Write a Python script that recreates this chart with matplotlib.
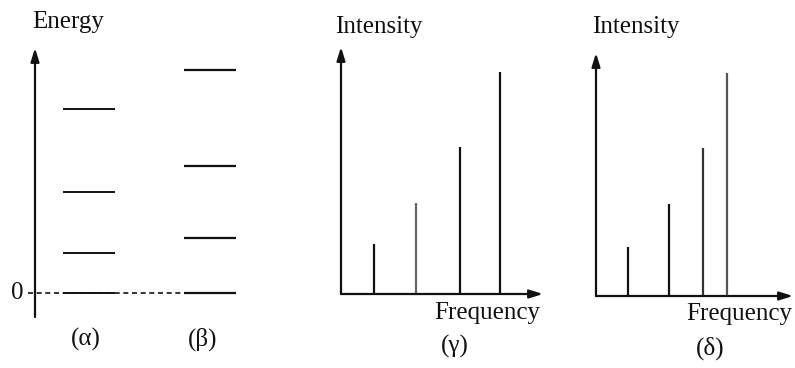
import matplotlib.pyplot as plt

# energy levels (arbitrary units, 0 = ground level)
levels_alpha = [0.0, 1.0, 2.52, 4.6]
levels_beta = [0.0, 1.38, 3.18, 5.58]

# spectra: line positions and intensities (arbitrary units)
freq_gamma = [33, 75, 119, 159]
int_gamma = [50, 91, 147, 222]
freq_delta = [32, 73, 107, 131]
int_delta = [49, 92, 148, 223]

panel_labels = ['(α)', '(β)', '(γ)', '(δ)']

plt.rcParams['font.family'] = ['Liberation Serif', 'DejaVu Serif']

W, H = 795, 368
fig = plt.figure(figsize=(W / 100, H / 100), dpi=100)


def px_axes(left, top, right, bottom):
    # axes placed by pixel box (top/bottom measured from image top)
    ax = fig.add_axes([left / W, 1 - bottom / H, (right - left) / W, (bottom - top) / H])
    ax.set_axis_off()
    return ax


def arrow(ax, start, end):
    ax.annotate('', xy=end, xytext=start, xycoords='axes fraction',
                arrowprops=dict(arrowstyle='-|>,head_length=0.8,head_width=0.25',
                                mutation_scale=10, lw=1.6, color='#111111',
                                shrinkA=0, shrinkB=0), annotation_clip=False)


def ftext(x, y, s, **kw):
    fig.text(x / W, 1 - y / H, s, fontsize=18, color='#111111', **kw)


# ---- energy level diagram (alpha, beta)
ax1 = px_axes(35, 48, 240, 317)
ax1.set_xlim(0, 5.125)
ax1.set_ylim(-0.6, 6.125)
arrow(ax1, (0, 0), (0, 1))
ax1.plot([-0.18, 3.72], [0, 0], color='#111111', lw=1.2,
         linestyle=(0, (3, 2.2)), clip_on=False)
for e in levels_alpha:
    ax1.plot([0.7, 2.0], [e, e], color='#111111', lw=1.4, solid_capstyle='butt')
for e in levels_beta:
    ax1.plot([3.72, 5.03], [e, e], color='#111111', lw=1.6, solid_capstyle='butt')

ftext(32, 28, 'Energy', ha='left', va='baseline')
ftext(17, 293, '0', ha='center', va='center')
ftext(86, 339, panel_labels[0], ha='center', va='center')
ftext(203, 339, panel_labels[1], ha='center', va='center')

# ---- spectrum gamma
ax2 = px_axes(341, 47, 543, 294)
ax2.set_xlim(0, 202)
ax2.set_ylim(0, 247)
arrow(ax2, (0, 0), (0, 1))
arrow(ax2, (0, 0), (1, 0))
colors_g = ['#111111', '#666666', '#111111', '#111111']
ax2.vlines(freq_gamma, 0, int_gamma, colors=colors_g, lw=1.6)

ftext(335, 33, 'Intensity', ha='left', va='baseline')
ftext(540, 313, 'Frequency', ha='right', va='center')
ftext(455, 346, panel_labels[2], ha='center', va='center')

# ---- spectrum delta
ax3 = px_axes(596, 53, 793, 296)
ax3.set_xlim(0, 197)
ax3.set_ylim(0, 243)
arrow(ax3, (0, 0), (0, 1))
arrow(ax3, (0, 0), (1, 0))
colors_d = ['#111111', '#111111', '#333333', '#555555']
ax3.vlines(freq_delta, 0, int_delta, colors=colors_d, lw=1.6)

ftext(592, 33, 'Intensity', ha='left', va='baseline')
ftext(792, 314, 'Frequency', ha='right', va='center')
ftext(710, 348, panel_labels[3], ha='center', va='center')

fig.savefig('out.png', dpi=100)
